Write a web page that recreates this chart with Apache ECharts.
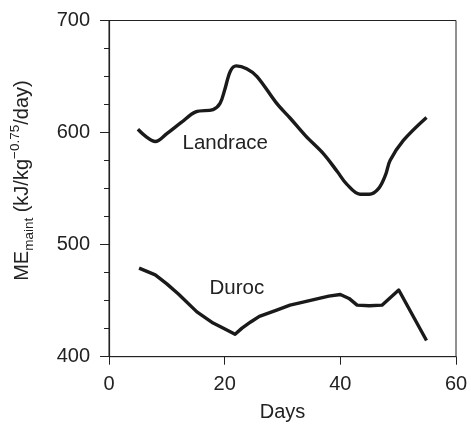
<!DOCTYPE html>
<html>
<head>
<meta charset="utf-8">
<script src="https://cdn.jsdelivr.net/npm/echarts@6/dist/echarts.min.js"></script>
<style>html,body{margin:0;padding:0;background:#fff}#c{width:471px;height:432px}</style>
</head>
<body>
<div id="c"></div>
<script>
var xTicks = [0, 20, 40, 60];
var yTicks = [400, 500, 600, 700];
var landraceDays = [5, 6.5, 8, 10, 12.5, 15, 18, 19.2, 20, 21, 22, 23.8, 25.6, 29, 31.3, 34, 37.1, 39.5, 41.1, 43.4, 45, 46.6, 47.8, 48.6, 50.9, 54.9];
var landraceME = [603, 596, 592, 599, 609, 618.5, 620.5, 626, 638, 655, 659.5, 657, 650, 626, 613, 597, 581, 565, 554, 545, 545, 550, 562, 575, 593, 613.5];
var durocDays = [5.2, 8, 10, 12, 15.2, 18, 19.2, 21.8, 23, 24.5, 26, 29, 31.3, 33, 35.4, 38, 40, 41.5, 42.9, 45, 47.2, 50.1, 54.9];
var durocME = [479, 473, 465, 456, 440, 430, 427, 420, 425.5, 431, 436, 441.5, 446, 448, 451, 454, 455.5, 452, 446, 445.5, 446, 459.5, 414.5];
var seriesLabels = ['Landrace', 'Duroc'];

function pairs(xs, ys) { return xs.map(function (x, i) { return [x, ys[i]]; }); }

var font = 'Liberation Sans, Arial, Helvetica, sans-serif';
var chart = echarts.init(document.getElementById('c'));
chart.setOption({
  animation: false,
  backgroundColor: '#fff',
  grid: { left: 109, right: 15, top: 20.5, bottom: 75.3, show: true, borderColor: '#222', borderWidth: 1 },
  xAxis: {
    type: 'value', min: xTicks[0], max: xTicks[xTicks.length - 1], interval: 20,
    name: 'Days', nameLocation: 'middle', nameGap: 46,
    nameTextStyle: { fontSize: 20, color: '#222', fontFamily: font },
    axisLine: { show: true, lineStyle: { color: '#222', width: 1.2 } },
    axisTick: { show: true, length: 8, lineStyle: { color: '#222' } },
    axisLabel: { fontSize: 20, color: '#222', fontFamily: font, margin: 18 },
    splitLine: { show: false }
  },
  yAxis: {
    type: 'value', min: yTicks[0], max: yTicks[yTicks.length - 1], interval: 100,
    name: '{n|ME}{sub|maint}{n| (kJ/kg}{sup|−0.75}{n|/day)}',
    nameLocation: 'middle', nameRotate: 90, nameGap: 73,
    nameTextStyle: {
      color: '#222', fontFamily: font, padding: [0, 0, 0, 16],
      rich: {
        n: { fontSize: 20, lineHeight: 28, verticalAlign: 'middle', color: '#222', fontFamily: font },
        sub: { fontSize: 13.5, lineHeight: 13, verticalAlign: 'bottom', color: '#222', fontFamily: font },
        sup: { fontSize: 13.5, lineHeight: 13, verticalAlign: 'top', color: '#222', fontFamily: font }
      }
    },
    axisLine: { show: true, lineStyle: { color: '#222', width: 1.2 } },
    axisTick: { show: true, length: 9, lineStyle: { color: '#222' } },
    minorTick: { show: true, splitNumber: 4, length: 5, lineStyle: { color: '#222' } },
    axisLabel: { fontSize: 20, color: '#222', fontFamily: font, margin: 19 },
    splitLine: { show: false }
  },
  series: [
    {
      name: seriesLabels[0], type: 'line', smooth: 0.35, symbol: 'none',
      data: pairs(landraceDays, landraceME),
      lineStyle: { color: '#1a1a1a', width: 3.4 }
    },
    {
      name: seriesLabels[1], type: 'line', smooth: false, symbol: 'none',
      data: pairs(durocDays, durocME),
      lineStyle: { color: '#1a1a1a', width: 3.4, join: 'round' }
    },
    {
      type: 'scatter', symbolSize: 0, itemStyle: { color: '#fff', opacity: 1 },
      silent: true,
      label: {
        show: true, position: 'inside', fontSize: 20.5, color: '#222', opacity: 1,
        textBorderWidth: 0, fontFamily: font,
        formatter: function (p) { return seriesLabels[p.dataIndex]; }
      },
      data: [[20.1, 590.6], [22.1, 461]]
    }
  ]
});
</script>
</body>
</html>
